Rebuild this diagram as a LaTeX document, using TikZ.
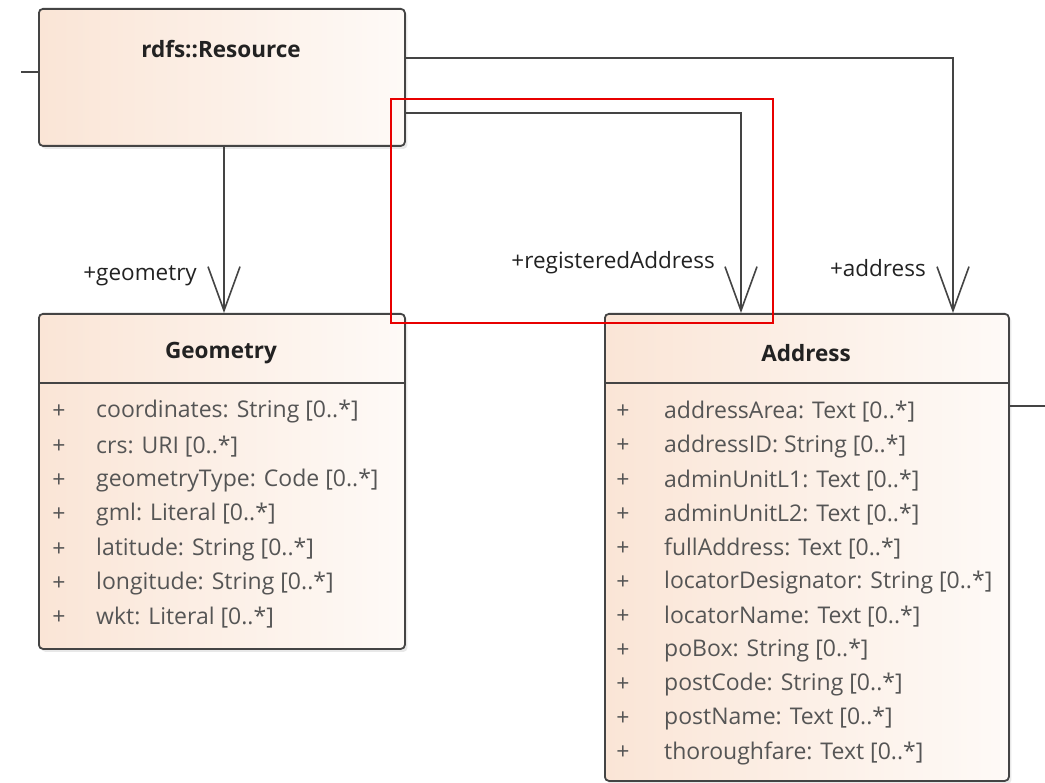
\documentclass[tikz,border=0pt]{standalone}
\usepackage{fontspec}
\setmainfont{Open Sans}
\usetikzlibrary{arrows.meta,shadows,calc}
\definecolor{edgegray}{RGB}{68,68,68}
\definecolor{fillL}{RGB}{250,229,214}
\definecolor{fillR}{RGB}{254,250,247}
\definecolor{attrgray}{RGB}{85,85,85}
\definecolor{titlegray}{RGB}{34,34,34}
\definecolor{markred}{RGB}{232,0,0}
\tikzset{
  classbox/.style={draw=edgegray, line width=1.8pt, rounded corners=4pt,
    left color=fillL, right color=fillR, anchor=north west, inner sep=0pt,
    drop shadow={shadow xshift=2.5pt, shadow yshift=-3pt, opacity=0.18}},
  classname/.style={font=\bfseries\fontsize{22.5}{26}\selectfont, text=titlegray},
  attr/.style={font=\fontsize{23}{27}\selectfont, text=attrgray, anchor=west, inner sep=0pt},
  vis/.style={font=\fontsize{23}{27}\selectfont, text=attrgray, inner sep=0pt},
  rolelabel/.style={font=\fontsize{22.5}{26}\selectfont, text=titlegray, inner sep=0pt},
  connector/.style={draw=edgegray, line width=1.6pt},
  assoc/.style={connector, -{Straight Barb[length=44pt, width=32pt, line width=1.6pt]}},
  divider/.style={draw=edgegray, line width=1.8pt},
  markbox/.style={draw=markred, line width=1.6pt, anchor=north west, inner sep=0pt}
}
\begin{document}
\begin{tikzpicture}[x=1pt, y=-1pt]
\useasboundingbox[fill=white] (0,0) rectangle (1045,783);

% classes
\node[classbox, minimum width=366pt, minimum height=137pt] (res) at (38,8) {};
\node[classname] (resname) at (221,49) {rdfs::Resource};

\node[classbox, minimum width=366pt, minimum height=335pt] (geo) at (38,313) {};
\node[classname] (geoname) at (221,353) {Geometry};
\draw[divider] (geo.west |- 0,383) -- (geo.east |- 0,383);

\node[classbox, minimum width=404pt, minimum height=467pt] (addr) at (604,313) {};
\node[classname] (addrname) at (806,353) {Address};
\draw[divider] (addr.west |- 0,383) -- (addr.east |- 0,383);

% attributes
\foreach \t [count=\i] in {{coordinates: String [0..*]}, {crs: URI [0..*]},
    {geometryType: Code [0..*]}, {gml: Literal [0..*]}, {latitude: String [0..*]},
    {longitude: String [0..*]}, {wkt: Literal [0..*]}} {
  \node[vis] (gplus\i) at (59, 412+34.3*\i-34.3) {+};
  \node[attr] (gattr\i) at (96, 412+34.3*\i-34.3) {\t};
}
\foreach \t [count=\i] in {{addressArea: Text [0..*]}, {addressID: String [0..*]},
    {adminUnitL1: Text [0..*]}, {adminUnitL2: Text [0..*]}, {fullAddress: Text [0..*]},
    {locatorDesignator: String [0..*]}, {locatorName: Text [0..*]},
    {poBox: String [0..*]}, {postCode: String [0..*]}, {postName: Text [0..*]},
    {thoroughfare: Text [0..*]}} {
  \node[vis] (aplus\i) at (623, 412+34.1*\i-34.1) {+};
  \node[attr] (aattr\i) at (664, 412+34.1*\i-34.1) {\t};
}

% associations
\draw[assoc] (res.south -| 224,0) -- (geo.north -| 224,0);
\draw[assoc] (res.east |- 0,113) -| (addr.north -| 741,0);
\draw[assoc] (res.east |- 0,58) -| (addr.north -| 953,0);

\node[rolelabel, anchor=east] (lgeo) at (197,276) {+geometry};
\node[rolelabel, anchor=east] (lreg) at (715,263) {+registeredAddress};
\node[rolelabel, anchor=east] (laddr) at (926,268) {+address};

% connectors leaving the visible area
\coordinate (stubL) at (21,72);
\coordinate (stubR) at (1045,406);
\draw[connector] (res.west |- stubL) -- (stubL);
\draw[connector] (addr.east |- stubR) -- (stubR);

% highlight frame
\node[markbox, minimum width=382pt, minimum height=224pt] (mark) at (390,98) {};
\end{tikzpicture}
\end{document}
